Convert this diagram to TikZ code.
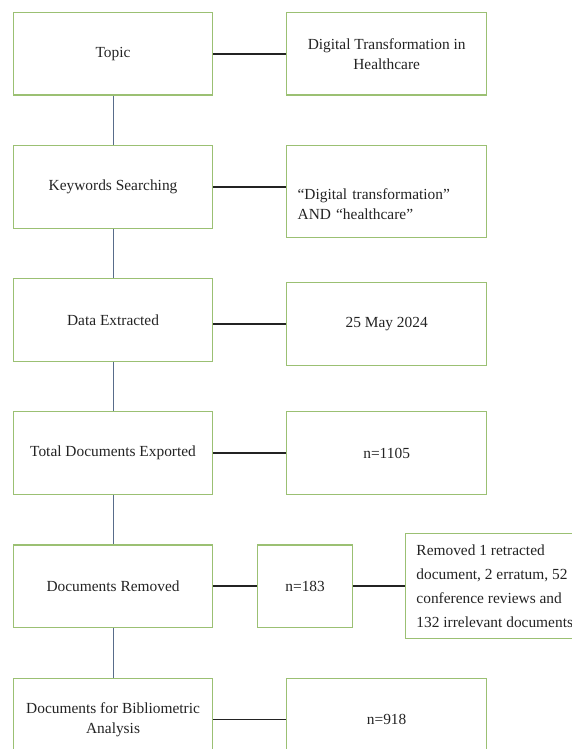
\documentclass[tikz,border=0pt]{standalone}
\usepackage{fontspec}
\setmainfont{Liberation Serif}
\usepackage{xcolor}
\usetikzlibrary{positioning}

\definecolor{boxgreen}{RGB}{155,192,115}
\definecolor{linkblue}{RGB}{88,108,138}
\definecolor{inkgray}{RGB}{35,35,35}

\begin{document}
\begin{tikzpicture}[
    node distance=49.5pt,
    box/.style={
        draw=boxgreen,
        line width=1.1pt,
        minimum width=199pt,
        minimum height=82.5pt,
        align=center,
        text=inkgray,
        font=\fontsize{15.4}{20}\selectfont
    },
    sidebox/.style={box, minimum width=200pt},
    vlink/.style={draw=linkblue, line width=0.9pt},
    hlink/.style={draw=inkgray, line width=1.6pt}
]
\useasboundingbox (0,0) rectangle (572pt,-749pt);

\node[box, anchor=north west] (topic) at (13pt,-12pt) {Topic};
\node[box, below=of topic] (search) {Keywords Searching};
\node[box, below=of search] (extract) {Data Extracted};
\node[box, below=of extract] (export) {Total Documents Exported};
\node[box, below=of export] (removed) {Documents Removed};
\node[box, below=of removed] (final) {Documents for Bibliometric\\Analysis};

\node[sidebox, right=73pt of topic] (field) {Digital Transformation in\\Healthcare};
\node[sidebox, right=73pt of search.north east, anchor=north west,
      minimum height=92pt, text width=178pt, inner xsep=11pt, align=left] (terms)
      {\rule{0pt}{36pt}“Digital transformation”\\AND “healthcare”};
\node[sidebox, right=73pt of extract, yshift=-4pt] (date) {25 May 2024};
\node[sidebox, right=73pt of export] (count) {n=1105};
\node[box, right=44pt of removed, minimum width=95pt] (dropped) {n=183};
\node[box, right=52pt of dropped, minimum width=178pt, minimum height=105pt,
      align=left, font=\fontsize{15.4}{24}\selectfont] (reason)
      {Removed 1 retracted\\document, 2 erratum, 52\\conference reviews and\\132 irrelevant documents};
\node[sidebox, right=73pt of final] (kept) {n=918};

\draw[vlink] (topic) -- (search);
\draw[vlink] (search) -- (extract);
\draw[vlink] (extract) -- (export);
\draw[vlink] (export) -- (removed);
\draw[vlink] (removed) -- (final);

\draw[hlink] (topic) -- (field);
\draw[hlink] (search.east) -- (search.east -| terms.west);
\draw[hlink] (extract.east |- date.west) -- (date.west);
\draw[hlink] (export) -- (count);
\draw[hlink] (removed) -- (dropped);
\draw[hlink] (dropped) -- (reason);
\draw[hlink] (final) -- (kept);
\end{tikzpicture}
\end{document}
